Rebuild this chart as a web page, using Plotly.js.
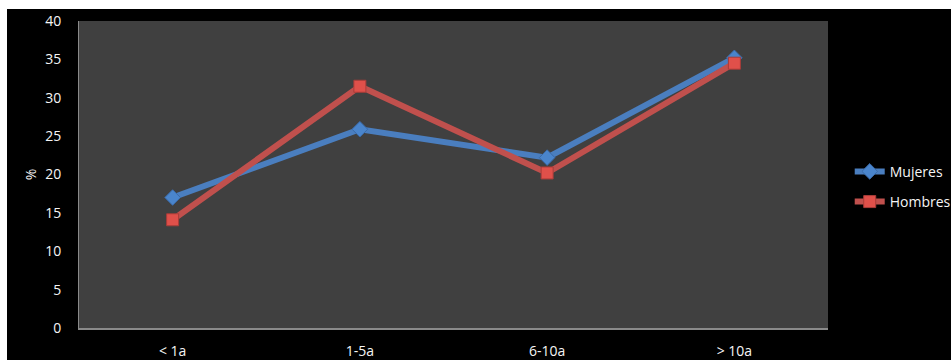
<!DOCTYPE html>
<html>
<head>
<meta charset="utf-8">
<script src="https://cdn.plot.ly/plotly-3.0.1.min.js"></script>
<style>
  html, body { margin: 0; padding: 0; background: #ffffff; width: 951px; height: 360px; overflow: hidden; }
  #chart { position: absolute; left: 7px; top: 9px; width: 944px; height: 351px; }
</style>
</head>
<body>
<div id="chart"></div>
<script>
const categories = ['< 1a', '1-5a', '6-10a', '> 10a'];
const mujeres = [17.0, 25.9, 22.2, 35.2];
const hombres = [14.1, 31.5, 20.2, 34.5];
const yTicks = [0, 5, 10, 15, 20, 25, 30, 35, 40];

const font = { family: 'Open Sans, Noto Sans, sans-serif', size: 14, color: '#f5f5f5' };
const legendFont = { family: 'Open Sans, Noto Sans, sans-serif', size: 14, color: '#f5f5f5' };

const traces = [
  {
    x: categories, y: mujeres, name: 'Mujeres', type: 'scatter', mode: 'lines+markers',
    legendgroup: 'm',
    line: { color: '#4a7ebf', width: 6 },
    marker: { symbol: 'diamond', size: 12, color: '#4a85cc', line: { color: '#3a6aa8', width: 1 } }
  },
  {
    x: categories, y: hombres, name: 'Hombres', type: 'scatter', mode: 'lines+markers',
    legendgroup: 'h',
    line: { color: '#c0504d', width: 6 },
    marker: { symbol: 'square', size: 12, color: '#e0504a', line: { color: '#a83c38', width: 1 } }
  }
];

const layout = {
  width: 944, height: 351,
  margin: { l: 72, r: 123, t: 12, b: 32, autoexpand: false },
  paper_bgcolor: '#000000',
  plot_bgcolor: '#404040',
  font: font,
  showlegend: true,
  legend: {
    x: 1.029, y: 0.46, xanchor: 'left', yanchor: 'middle',
    bgcolor: 'rgba(0,0,0,0)', font: legendFont,
    traceorder: 'grouped', tracegroupgap: 9
  },
  xaxis: {
    type: 'category', range: [-0.5, 3.5],
    showgrid: false, zeroline: false,
    showline: true, linecolor: '#8a8a8a', linewidth: 2,
    ticks: '', ticklabelstandoff: 9,
    tickfont: font, fixedrange: true
  },
  yaxis: {
    range: [0, 40], tickvals: yTicks, ticktext: yTicks.map(String),
    showgrid: false, zeroline: false,
    showline: true, linecolor: '#8a8a8a', linewidth: 1,
    ticks: '', ticklabelstandoff: 14,
    tickfont: font,
    title: { text: '%', font: font, standoff: 5 },
    fixedrange: true
  }
};

Plotly.newPlot('chart', traces, layout, { displayModeBar: false, staticPlot: true });
</script>
</body>
</html>
